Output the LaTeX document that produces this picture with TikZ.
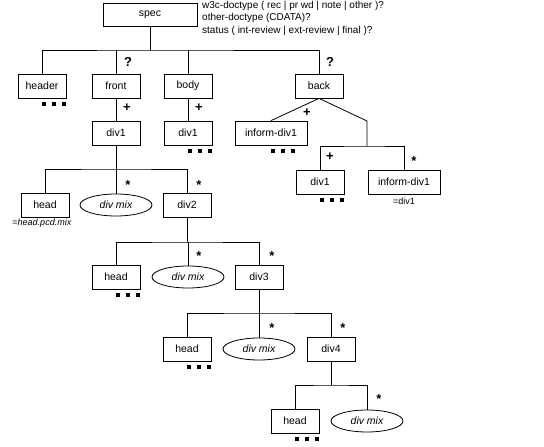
\documentclass[tikz,border=0pt]{standalone}
\usepackage{fontspec}
\setmainfont{Liberation Sans}
\usetikzlibrary{shapes.geometric}

\tikzset{
  box/.style={shape=rectangle, draw=black, line width=0.8pt, minimum width=48pt, minimum height=24pt, inner sep=0pt, font=\fontsize{10.5}{12}\selectfont},
  widebox/.style={box, minimum width=72pt},
  mix/.style={shape=ellipse, draw=black, line width=0.8pt, minimum width=72pt, minimum height=22pt, inner sep=0pt, font=\fontsize{10.5}{12}\selectfont\itshape},
  occ/.style={inner sep=0pt, font=\fontsize{13}{13}\selectfont\bfseries},
  rep/.style={occ, yshift=-3pt},
  note/.style={inner sep=0pt, font=\fontsize{9}{11}\selectfont},
  tree/.style={line width=0.8pt}
}

% three small squares under a node whose content goes on
\newcommand{\moredots}[1]{%
  \foreach \dx in {0,10,20}
    \fill ([xshift=\dx pt, yshift=-4pt]#1.south) rectangle ++(3.5,3.5);}

\begin{document}
\begin{tikzpicture}[x=1pt, y=-1pt]
	\useasboundingbox (0,0) rectangle (544,447);
	
	% top level
	\node[box, minimum width=94pt, minimum height=23pt] (spec) at (150,15) {spec};
	\node[anchor=north west, align=left, inner sep=0pt, font=\fontsize{10}{12.5}\selectfont] (attrs) at (202,1)
	  {w3c-doctype ( rec | pr wd | note | other )?\\other-doctype (CDATA)?\\status ( int-review | ext-review | final )?};
	
	\coordinate (j1) at (150,50);
	\node[box] (header) at (42,86)  {header};
	\node[box] (front)  at (116,86) {front};
	\node[box] (body)   at (188,86) {body};
	\node[box] (back)   at (319,86) {back};
	\node[occ] (q1) at (128,62) {?};
	\node[occ] (q2) at (330,62) {?};
	
	% front, body, back
	\node[box] (div1a) at (116,133) {div1};
	\node[box] (div1b) at (188,133) {div1};
	\node[occ] (p1) at (127,108) {+};
	\node[occ] (p2) at (199,108) {+};
	
	\node[widebox] (infoa) at (271,133) {inform-div1};
	\node[occ] (p3) at (307,113) {+};
	\coordinate (bend) at (367,121);
	\coordinate (j3) at (367,146);
	\node[box] (div1c) at (320,182) {div1};
	\node[widebox] (infob) at (404,182) {inform-div1};
	\node[occ] (p4) at (330,157) {+};
	\node[rep] (s0) at (414,158) {*};
	\node[note] (eqdiv) at (404,201) {=div1};
	
	% div1 .. div4
	\coordinate (j2) at (116,169);
	\node[box] (head1) at (45,205)  {head};
	\node[mix] (mix1)  at (116,205) {div mix};
	\node[box] (div2)  at (187,205) {div2};
	\node[rep] (s1) at (128,182) {*};
	\node[rep] (s2) at (199,182) {*};
	\node[note] (eqhead) at (42,223) {=\textit{head.pcd.mix}};
	
	\coordinate (j4) at (187,242);
	\node[box] (head2) at (116,277) {head};
	\node[mix] (mix2)  at (188,277) {div mix};
	\node[box] (div3)  at (259,277) {div3};
	\node[rep] (s3) at (199,253) {*};
	\node[rep] (s4) at (272,253) {*};
	
	\coordinate (j5) at (259,313);
	\node[box] (head3) at (187,349) {head};
	\node[mix] (mix3)  at (259,349) {div mix};
	\node[box] (div4)  at (331,349) {div4};
	\node[rep] (s5) at (272,325) {*};
	\node[rep] (s6) at (343,325) {*};
	
	\coordinate (j6) at (331,385);
	\node[box] (head4) at (295,421) {head};
	\node[mix] (mix4)  at (367,421) {div mix};
	\node[rep] (s7) at (379,396) {*};
	
	% connectors
	\draw[tree] (spec) -- (j1);
	\draw[tree] (header) |- (j1) -| (back);
	\draw[tree] (front) -- (front |- j1);
	\draw[tree] (body) -- (body |- j1);
	\draw[tree] (front) -- (div1a);
	\draw[tree] (body) -- (div1b);
	\draw[tree] (back.south) -- (infoa.north);
	\draw[tree] (back.south) -- (bend) -- (j3);
	\draw[tree] (div1c) |- (j3) -| (infob);
	
	\draw[tree] (div1a) -- (j2);
	\draw[tree] (head1) |- (j2) -| (div2);
	\draw[tree] (mix1) -- (j2);
	\draw[tree] (div2) -- (j4);
	\draw[tree] (head2) |- (j4) -| (div3);
	\draw[tree] (mix2) -- (mix2 |- j4);
	\draw[tree] (div3) -- (j5);
	\draw[tree] (head3) |- (j5) -| (div4);
	\draw[tree] (mix3) -- (j5);
	\draw[tree] (div4) -- (j6);
	\draw[tree] (head4) |- (j6) -| (mix4);
	
	\moredots{header}
	\moredots{div1b}
	\moredots{infoa}
	\moredots{div1c}
	\moredots{head2}
	\moredots{head3}
	\moredots{head4}
	
\end{tikzpicture}
\end{document}
